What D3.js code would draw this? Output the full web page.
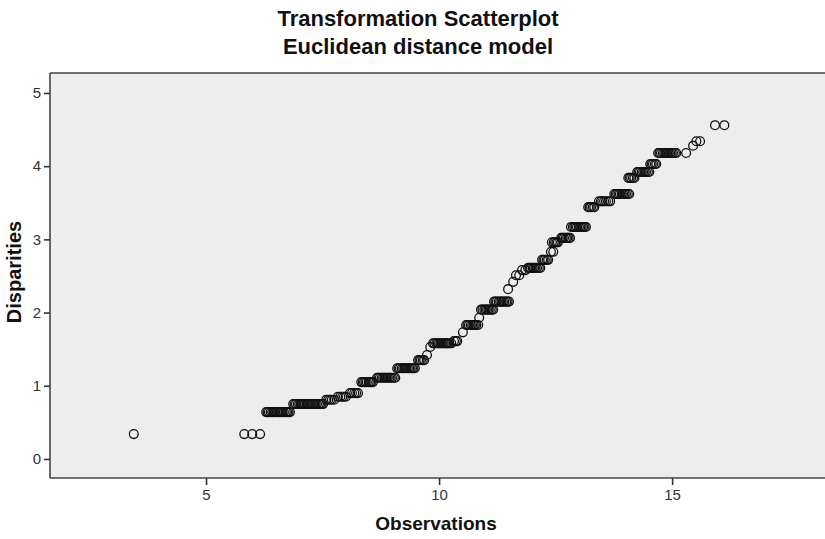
<!DOCTYPE html>
<html><head><meta charset="utf-8">
<script src="https://cdn.jsdelivr.net/npm/d3@7"></script>
<style>body{margin:0;background:#fff}</style>
</head><body><svg id="c" width="825" height="539"></svg>
<script>
const titleLines = ["Transformation Scatterplot", "Euclidean distance model"];
const xLabel = "Observations";
const yLabel = "Disparities";
const xTicks = [5, 10, 15];
const yTicks = [0, 1, 2, 3, 4, 5];
const observations = [
 3.45, 5.82, 5.99, 6.16,
 6.29, 6.32, 6.35, 6.39, 6.42, 6.45, 6.48, 6.52, 6.55, 6.58, 6.61, 6.64, 6.67, 6.71, 6.74, 6.77, 6.80,
 6.87, 6.90, 6.93, 6.97, 7.00, 7.03, 7.06, 7.09, 7.12, 7.16, 7.19, 7.22, 7.25, 7.29, 7.32, 7.35, 7.38, 7.42, 7.45, 7.48, 7.51,
 7.58, 7.62, 7.66, 7.70, 7.75,
 7.83, 7.88, 7.92, 7.96, 8.00,
 8.09, 8.13, 8.18, 8.22, 8.26,
 8.33, 8.36, 8.39, 8.42, 8.45, 8.49, 8.52, 8.55, 8.58,
 8.67, 8.70, 8.73, 8.77, 8.80, 8.83, 8.86, 8.90, 8.93, 8.96, 8.99, 9.03, 9.06,
 9.10, 9.13, 9.16, 9.20, 9.23, 9.26, 9.29, 9.33, 9.36, 9.39, 9.42, 9.45, 9.48,
 9.55, 9.58, 9.61, 9.65, 9.68,
 9.74, 9.81,
 9.87, 9.90, 9.94, 9.97, 10.00, 10.03, 10.06, 10.10, 10.13, 10.16, 10.19, 10.22, 10.26,
 10.32, 10.36, 10.39,
 10.51,
 10.58, 10.61, 10.64, 10.68, 10.71, 10.74, 10.77, 10.80, 10.84,
 10.86,
 10.90, 10.93, 10.97, 11.00, 11.03, 11.06, 11.09, 11.13, 11.16,
 11.18, 11.21, 11.24, 11.28, 11.31, 11.34, 11.37, 11.40, 11.44, 11.47, 11.50,
 11.48, 11.59,
 11.65, 11.72,
 11.78, 11.85,
 11.91, 11.94, 11.97, 12.01, 12.04, 12.07, 12.10, 12.14, 12.17,
 12.21, 12.24, 12.27, 12.31, 12.34,
 12.40, 12.45,
 12.42, 12.46, 12.49, 12.52, 12.55,
 12.62, 12.65, 12.68, 12.72, 12.75, 12.78, 12.81,
 12.83, 12.87, 12.90, 12.93, 12.96, 13.00, 13.03, 13.06, 13.09, 13.12, 13.15,
 13.20, 13.23, 13.26, 13.30, 13.33,
 13.43, 13.47, 13.50, 13.54, 13.58, 13.63, 13.67,
 13.76, 13.79, 13.82, 13.85, 13.88, 13.92, 13.95, 13.98, 14.01, 14.05, 14.08,
 14.06, 14.09, 14.12, 14.16, 14.19,
 14.25, 14.28, 14.31, 14.35, 14.38, 14.41, 14.44, 14.48, 14.51,
 14.53, 14.56, 14.59, 14.63, 14.66,
 14.70, 14.73, 14.76, 14.80, 14.83, 14.86, 14.89, 14.93, 14.96, 14.99, 15.02, 15.06, 15.09,
 15.30, 15.45, 15.52, 15.60, 15.92, 16.12
];
const disparities = [
 0.34, 0.34, 0.34, 0.34,
 0.64, 0.64, 0.64, 0.64, 0.64, 0.64, 0.64, 0.64, 0.64, 0.64, 0.64, 0.64, 0.64, 0.64, 0.64, 0.64, 0.64,
 0.75, 0.75, 0.75, 0.75, 0.75, 0.75, 0.75, 0.75, 0.75, 0.75, 0.75, 0.75, 0.75, 0.75, 0.75, 0.75, 0.75, 0.75, 0.75, 0.75, 0.75,
 0.81, 0.81, 0.81, 0.81, 0.81,
 0.85, 0.85, 0.85, 0.85, 0.85,
 0.90, 0.90, 0.90, 0.90, 0.90,
 1.05, 1.05, 1.05, 1.05, 1.05, 1.05, 1.05, 1.05, 1.05,
 1.11, 1.11, 1.11, 1.11, 1.11, 1.11, 1.11, 1.11, 1.11, 1.11, 1.11, 1.11, 1.11,
 1.24, 1.24, 1.24, 1.24, 1.24, 1.24, 1.24, 1.24, 1.24, 1.24, 1.24, 1.24, 1.24,
 1.35, 1.35, 1.35, 1.35, 1.35,
 1.42, 1.53,
 1.58, 1.58, 1.58, 1.58, 1.58, 1.58, 1.58, 1.58, 1.58, 1.58, 1.58, 1.58, 1.58,
 1.61, 1.61, 1.61,
 1.73,
 1.83, 1.83, 1.83, 1.83, 1.83, 1.83, 1.83, 1.83, 1.83,
 1.93,
 2.04, 2.04, 2.04, 2.04, 2.04, 2.04, 2.04, 2.04, 2.04,
 2.15, 2.15, 2.15, 2.15, 2.15, 2.15, 2.15, 2.15, 2.15, 2.15, 2.15,
 2.32, 2.42,
 2.51, 2.51,
 2.58, 2.58,
 2.61, 2.61, 2.61, 2.61, 2.61, 2.61, 2.61, 2.61, 2.61,
 2.72, 2.72, 2.72, 2.72, 2.72,
 2.83, 2.83,
 2.96, 2.96, 2.96, 2.96, 2.96,
 3.02, 3.02, 3.02, 3.02, 3.02, 3.02, 3.02,
 3.17, 3.17, 3.17, 3.17, 3.17, 3.17, 3.17, 3.17, 3.17, 3.17, 3.17,
 3.44, 3.44, 3.44, 3.44, 3.44,
 3.52, 3.52, 3.52, 3.52, 3.52, 3.52, 3.52,
 3.62, 3.62, 3.62, 3.62, 3.62, 3.62, 3.62, 3.62, 3.62, 3.62, 3.62,
 3.84, 3.84, 3.84, 3.84, 3.84,
 3.92, 3.92, 3.92, 3.92, 3.92, 3.92, 3.92, 3.92, 3.92,
 4.03, 4.03, 4.03, 4.03, 4.03,
 4.18, 4.18, 4.18, 4.18, 4.18, 4.18, 4.18, 4.18, 4.18, 4.18, 4.18, 4.18, 4.18,
 4.18, 4.28, 4.34, 4.34, 4.56, 4.56
];

const plot = {left: 50, right: 825, top: 73, bottom: 478};
const svg = d3.select("#c");
const x = d3.scaleLinear().domain([1.652, 18.28]).range([plot.left, plot.right]);
const y = d3.scaleLinear().domain([-0.26, 5.273]).range([plot.bottom, plot.top]);

svg.append("rect").attr("x", plot.left).attr("y", plot.top)
  .attr("width", plot.right - plot.left).attr("height", plot.bottom - plot.top)
  .attr("fill", "#ededed");

const font = "'Liberation Sans', Arial, sans-serif";

const pts = observations.map((o, i) => ({o, d: disparities[i]}));
svg.append("g").selectAll("circle").data(pts).join("circle")
  .attr("cx", p => x(p.o)).attr("cy", p => y(p.d)).attr("r", 4.4)
  .attr("fill", "none").attr("stroke", "#111").attr("stroke-width", 1.3);

svg.append("line").attr("x1", plot.left).attr("x2", plot.right).attr("y1", plot.top).attr("y2", plot.top)
  .attr("stroke", "#444").attr("stroke-width", 1.6);

const xAxis = svg.append("g").attr("transform", `translate(0,${plot.bottom})`)
  .call(d3.axisBottom(x).tickValues(xTicks).tickSize(7).tickPadding(4).tickFormat(d3.format("d")));
const yAxis = svg.append("g").attr("transform", `translate(${plot.left},0)`)
  .call(d3.axisLeft(y).tickValues(yTicks).tickSize(6).tickPadding(3).tickFormat(d3.format("d")));
[xAxis, yAxis].forEach(a => {
  a.select(".domain").attr("stroke", "#444").attr("stroke-width", 1.6);
  a.selectAll(".tick line").attr("stroke", "#333").attr("stroke-width", 1.6);
  a.selectAll(".tick text").attr("fill", "#333").style("font-family", font).style("font-size", "15px");
});
xAxis.select(".domain").attr("d", `M${plot.left},0H${plot.right}`);
yAxis.select(".domain").attr("d", `M0,${plot.top}V${plot.bottom}`);

function label(sel, size) {
  return sel.attr("text-anchor", "middle").style("font-family", font)
    .style("font-size", size + "px").style("font-weight", "bold").attr("fill", "#111");
}
label(svg.append("text").attr("x", 418).attr("y", 26), 22).text(titleLines[0]);
label(svg.append("text").attr("x", 418).attr("y", 54), 22).text(titleLines[1]);
label(svg.append("text").attr("x", 436).attr("y", 530), 19).text(xLabel);
label(svg.append("text").attr("transform", "translate(21,272) rotate(-90)"), 20).text(yLabel);
</script></body></html>
